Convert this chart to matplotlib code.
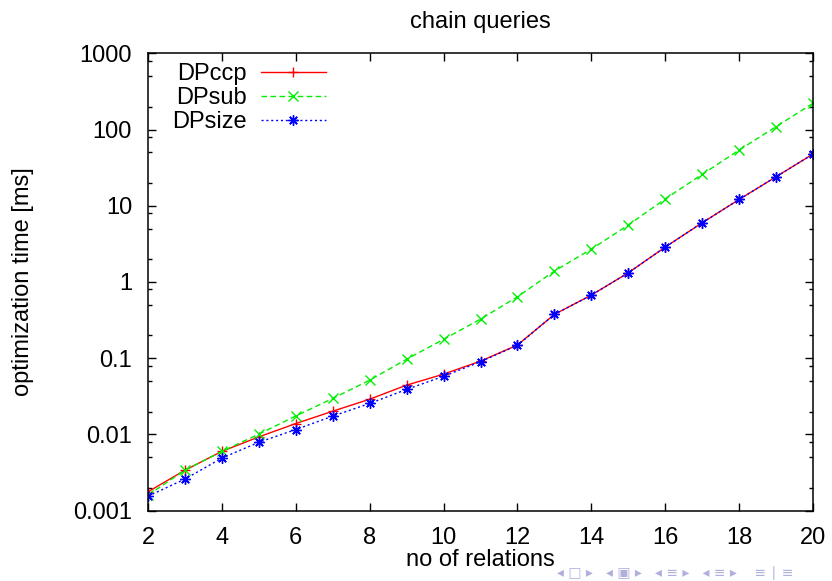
import numpy as np
import matplotlib.pyplot as plt
from matplotlib.ticker import LogLocator, NullFormatter

plt.rcParams['font.family'] = ['Liberation Sans', 'DejaVu Sans']

# --- data ---
relations = list(range(2, 21))
dpccp = [0.00177, 0.0034, 0.0060, 0.0093, 0.0139, 0.0202, 0.0290, 0.0444, 0.0618,
         0.0916, 0.149, 0.376, 0.673, 1.32, 2.87, 5.98, 12.1, 24.0, 47.7]
dpsub = [0.0016, 0.0034, 0.0060, 0.0101, 0.0175, 0.0297, 0.0516, 0.097, 0.177,
         0.326, 0.64, 1.39, 2.7, 5.58, 12.3, 25.8, 53.8, 109.0, 221.0]
dpsize = [0.00155, 0.0026, 0.0049, 0.0079, 0.0116, 0.0174, 0.0255, 0.039, 0.058,
          0.090, 0.148, 0.376, 0.673, 1.32, 2.87, 5.98, 12.1, 24.0, 47.7]

y_ticks = [0.001, 0.01, 0.1, 1, 10, 100, 1000]
y_labels = ['0.001', '0.01', '0.1', '1', '10', '100', '1000']
x_ticks = list(range(2, 21, 2))

fs = 17

fig = plt.figure(figsize=(8.32, 5.81), dpi=100)
ax = fig.add_axes([0.1779, 0.121, 0.7993, 0.7873])

ax.plot(relations, dpccp, color='#ff0000', lw=1.0, ls='-',
        marker='+', ms=7, mew=1.0, label='DPccp')
ax.plot(relations, dpsub, color='#00ee00', lw=1.0, ls=(0, (4, 2.5)),
        marker='x', ms=6.5, mew=1.0, label='DPsub')
ax.plot(relations, dpsize, color='#0000ff', lw=1.0, ls=(0, (1.5, 2)),
        marker=(8, 2, 0), ms=7.5, mew=1.0, label='DPsize')

ax.set_yscale('log')
ax.set_xlim(2, 20)
ax.set_ylim(0.001, 1000)
ax.set_xticks(x_ticks)
ax.set_xticklabels([str(t) for t in x_ticks])
ax.set_yticks(y_ticks)
ax.set_yticklabels(y_labels)
ax.yaxis.set_minor_locator(LogLocator(base=10, subs=(2, 5, 8)))
ax.yaxis.set_minor_formatter(NullFormatter())

ax.tick_params(which='both', direction='in', top=True, right=True,
               labelsize=fs, pad=11.5)
ax.tick_params(which='major', length=5.5, width=1.0)
ax.tick_params(which='minor', length=3, width=1.0)
for s in ax.spines.values():
    s.set_linewidth(1.1)

ax.set_title('chain queries', fontsize=fs, pad=18)
ax.set_xlabel('no of relations', fontsize=fs, labelpad=0)
ax.set_ylabel('optimization time [ms]', fontsize=fs, labelpad=28)

leg = ax.legend(loc='upper left', frameon=False, markerfirst=False,
                fontsize=fs, handlelength=2.75, labelspacing=0.08,
                handletextpad=0.6, borderpad=0, borderaxespad=0,
                alignment='right', bbox_to_anchor=(0.036, 0.978))

# beamer navigation symbols
fig.text(0.67, 0.002, '\u25c2 \u25a1 \u25b8   \u25c2 \u25a3 \u25b8   \u25c2 \u2261 \u25b8   \u25c2 \u2261 \u25b8    \u2261 \u2223 \u2261',
         ha='left', va='bottom', fontsize=10, color='#b0b0dc',
         family=['DejaVu Sans'])

plt.savefig('out.png', dpi=100)
